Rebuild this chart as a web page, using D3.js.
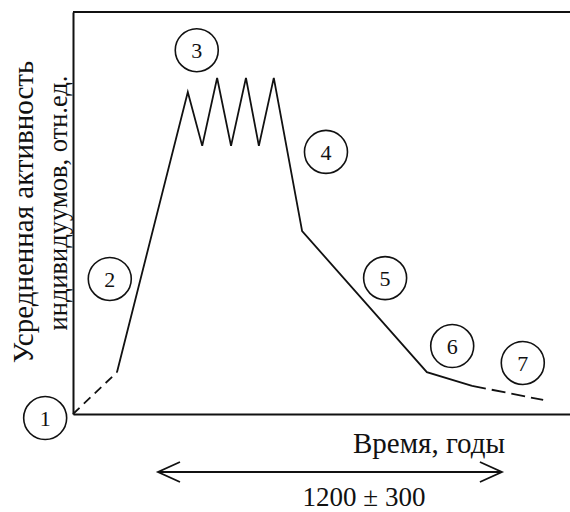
<!DOCTYPE html>
<html>
<head>
<meta charset="utf-8">
<script src="https://cdn.jsdelivr.net/npm/d3@7"></script>
<style>
  body { margin: 0; background: #fff; }
  text { font-family: "Liberation Serif", "Times New Roman", serif; fill: #111; }
</style>
</head>
<body>
<svg id="chart"></svg>
<script>
// curve data, time and activity in relative units (0..100)
const onsetT = [0, 8.85];
const onsetA = [0, 10.4];
const mainT = [8.85, 23.1, 26.0, 29.0, 31.8, 34.8, 37.4, 40.4, 46.1, 71.2, 80.3];
const mainA = [10.4, 80.1, 66.7, 83.6, 66.7, 83.6, 66.7, 83.6, 45.5, 10.4, 7.0];
const tailT = [80.3, 94.6];
const tailA = [7.0, 3.5];

// stage markers
const stageLabels = ['1', '2', '3', '4', '5', '6', '7'];
const stageT = [-5.6, 7.4, 24.9, 50.9, 62.8, 76.3, 90.5];
const stageA = [-1.0, 33.6, 90.5, 65.2, 33.8, 16.9, 12.7];

// duration span
const spanT = [17.1, 86.3];
const spanLabel = '1200 \u00b1 300';
const xTitle = 'Время, годы';
const yTitle = ['Усредненная активность', 'индивидуумов, отн.ед.'];

const width = 570;
const height = 512;
const margin = { top: 12, right: 0, bottom: 98, left: 73 };

const svg = d3.select('#chart').attr('width', width).attr('height', height);

const x = d3.scaleLinear()
  .domain([0, 100])
  .range([margin.left, width - margin.right]);

const y = d3.scaleLinear()
  .domain([0, 100])
  .range([height - margin.bottom, margin.top]);

// axes without ticks
svg.append('g')
  .attr('transform', `translate(0,${y(0)})`)
  .call(d3.axisBottom(x).ticks(0).tickSizeOuter(0))
  .call(g => g.select('.domain').attr('stroke', '#111').attr('stroke-width', 2));

svg.append('g')
  .attr('transform', `translate(${x(0)},0)`)
  .call(d3.axisLeft(y).ticks(0).tickSizeOuter(0))
  .call(g => g.select('.domain').attr('stroke', '#111').attr('stroke-width', 2));

// top frame line
svg.append('line')
  .attr('x1', x(0)).attr('x2', x(100))
  .attr('y1', y(100)).attr('y2', y(100))
  .attr('stroke', '#111').attr('stroke-width', 2);

const line = d3.line().x(d => x(d[0])).y(d => y(d[1]));

svg.append('path')
  .datum(d3.zip(onsetT, onsetA))
  .attr('d', line)
  .attr('fill', 'none').attr('stroke', '#111').attr('stroke-width', 1.8)
  .attr('stroke-dasharray', '9,6');

svg.append('path')
  .datum(d3.zip(mainT, mainA))
  .attr('d', line)
  .attr('fill', 'none').attr('stroke', '#111').attr('stroke-width', 1.8)
  .attr('stroke-linejoin', 'miter');

svg.append('path')
  .datum(d3.zip(tailT, tailA))
  .attr('d', line)
  .attr('fill', 'none').attr('stroke', '#111').attr('stroke-width', 1.8)
  .attr('stroke-dasharray', '14,6');

// numbered stage circles
const stages = svg.append('g')
  .selectAll('g')
  .data(stageLabels)
  .join('g')
  .attr('transform', (d, i) => `translate(${x(stageT[i])},${y(stageA[i])})`);

stages.append('circle')
  .attr('r', 21.5)
  .attr('fill', '#fff')
  .attr('stroke', '#111')
  .attr('stroke-width', 1.6);

stages.append('text')
  .attr('text-anchor', 'middle')
  .attr('dy', '0.35em')
  .attr('font-size', 22)
  .text(d => d);

// y title
svg.append('text')
  .attr('transform', `translate(33,212) rotate(-90)`)
  .attr('text-anchor', 'middle')
  .attr('font-size', 29)
  .text(yTitle[0]);

svg.append('text')
  .attr('transform', `translate(67,203) rotate(-90)`)
  .attr('text-anchor', 'middle')
  .attr('font-size', 26.5)
  .text(yTitle[1]);

// x title
svg.append('text')
  .attr('x', 505).attr('y', 453)
  .attr('text-anchor', 'end')
  .attr('font-size', 29)
  .text(xTitle);

// double arrow for duration
const arrowY = 472;
const x0 = x(spanT[0]);
const x1 = x(spanT[1]);
const arrow = svg.append('g')
  .attr('fill', 'none').attr('stroke', '#111').attr('stroke-width', 1.8);
arrow.append('line').attr('x1', x0).attr('x2', x1).attr('y1', arrowY).attr('y2', arrowY);
arrow.append('path').attr('d', `M${x0 + 22},${arrowY - 10}L${x0},${arrowY}L${x0 + 22},${arrowY + 10}`);
arrow.append('path').attr('d', `M${x1 - 22},${arrowY - 10}L${x1},${arrowY}L${x1 - 22},${arrowY + 10}`);

svg.append('text')
  .attr('x', 364).attr('y', 506)
  .attr('text-anchor', 'middle')
  .attr('font-size', 27)
  .text(spanLabel);
</script>
</body>
</html>
